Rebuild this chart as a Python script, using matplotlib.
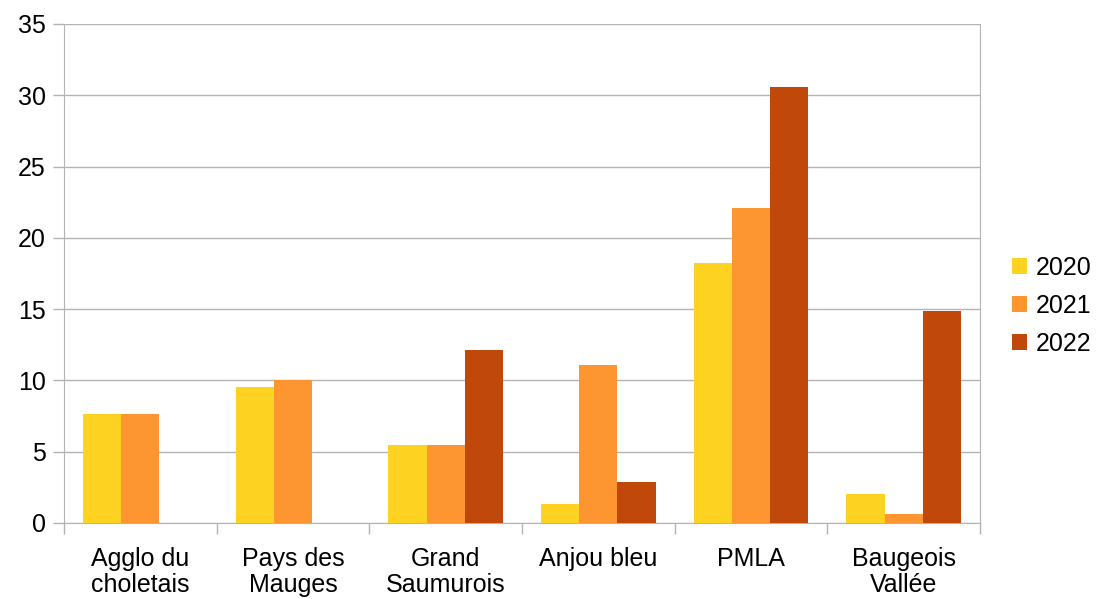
import matplotlib.pyplot as plt
import numpy as np

plt.rcParams['font.family'] = ['Liberation Sans', 'DejaVu Sans']

# données
categories = ["Agglo du\ncholetais", "Pays des\nMauges", "Grand\nSaumurois",
              "Anjou bleu", "PMLA", "Baugeois\nVallée"]
years = ["2020", "2021", "2022"]
v2020 = [7.65, 9.55, 5.45, 1.35, 18.25, 2.05]
v2021 = [7.65, 10.0, 5.5, 11.1, 22.1, 0.65]
v2022 = [0, 0, 12.1, 2.9, 30.6, 14.9]
colors = ["#FDD221", "#FD9631", "#BF480A"]

fig = plt.figure(figsize=(10.98, 5.99), dpi=100)
ax = fig.add_axes([0.0583, 0.1269, 0.8342, 0.8331])

x = np.arange(len(categories))
width = 0.25
for i, (vals, year) in enumerate(zip([v2020, v2021, v2022], years)):
    ax.bar(x + (i - 1) * width, vals, width, color=colors[i], label=year, zorder=3)

ax.set_xlim(-0.5, len(categories) - 0.5)
ax.set_ylim(0, 35)
ax.set_yticks(range(0, 36, 5))
ax.grid(axis='y', color='#b3b3b3', linewidth=1, zorder=0)

ax.set_xticks(x)
ax.set_xticklabels(categories, fontsize=18, linespacing=1.12)
ax.set_xticks(np.arange(-0.5, len(categories)), minor=True)
ax.tick_params(axis='x', which='major', length=0, pad=17)
ax.tick_params(axis='x', which='minor', length=8, color='#b3b3b3', width=1)
ax.tick_params(axis='y', length=8, color='#b3b3b3', width=1, labelsize=18, pad=5)

for side in ['left', 'right', 'bottom']:
    ax.spines[side].set_color('#b3b3b3')
ax.spines['top'].set_visible(False)

ax.legend(loc='center left', bbox_to_anchor=(1.01, 0.435), frameon=False,
          fontsize=18, handlelength=0.6, handleheight=0.6, handletextpad=0.35,
          labelspacing=0.55)

plt.savefig("out.png", dpi=100)
